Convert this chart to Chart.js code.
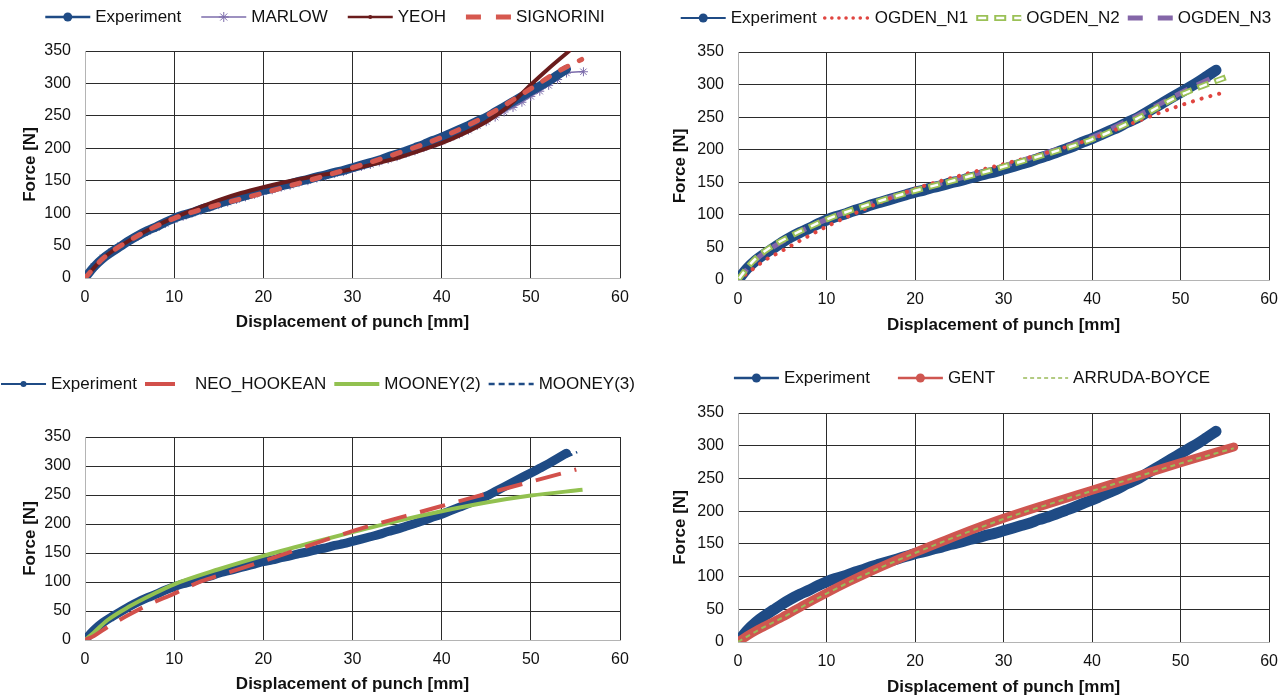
<!DOCTYPE html>
<html>
<head>
<meta charset="utf-8">
<script src="https://cdn.jsdelivr.net/npm/chart.js@4.4.0/dist/chart.umd.min.js"></script>
<style>
body { margin: 0; background: #fff; width: 1288px; height: 699px; position: relative; overflow: hidden; }
canvas { position: absolute; }
</style>
</head>
<body>
<canvas id="c1" width="640" height="345" style="left:0;top:0"></canvas>
<canvas id="c2" width="644" height="345" style="left:644px;top:0"></canvas>
<canvas id="c3" width="640" height="339" style="left:0;top:360px"></canvas>
<canvas id="c4" width="644" height="339" style="left:644px;top:360px"></canvas>
<script>
// Experiment (same test curve in every panel)
const expX = [0,1,2,3,4,5,6,7,8,9,10,11,12,13,14,15,16,17,18,19,20,21,22,23,24,25,26,27,28,29,30,31,32,33,34,35,36,37,38,39,40,41,42,43,44,45,46,47,48,49,50,51,52,53,54];
const expY = [0,17,30,40,49,58,66,73,79,86,92,97,101,106,110,115,119,123,127,131,135,138,142,145,149,152,156,159,163,166,170,174,178,182,187,191,196,201,206,212,217,223,229,235,242,248,256,264,272,280,288,296,304,313,322];

// Panel 1
const marlowX = [0,1,2,3,4,5,6,7,8,9,10,11,12,13,14,15,16,17,18,19,20,21,22,23,24,25,26,27,28,29,30,31,32,33,34,35,36,37,38,39,40,41,42,43,44,45,46,47,48,49,50,51,52,53,54,55.9];
const marlowY = [0,18,31,41,50,58,65,72,78,84,90,95,100,104,109,113,117,121,125,129,133,136,140,143,147,150,154,157,161,164,168,172,175,179,183,187,192,196,201,206,211,217,222,228,235,241,248,256,263,271,280,288,297,306,316,318];
const yeohX = [0,2,5,7.5,10,12.5,15,17.5,20,22.5,25,27.5,30,32.5,35,37.5,40,42.5,45,47.5,50,52,54.3];
const yeohY = [0,30,58,77,93,107,120,131,140,148,155,161,168,176,185,196,208,223,241,265,298,323,350];
const signoriniX = [0,2,5,10,15,20,25,30,35,40,45,50,53,55.7];
const signoriniY = [0,30,58,92,113,131,150,170,192,217,250,292,318,337];

// Panel 2
const ogden1X = [0,1,2,3,5,7.5,10,15,20,25,30,35,40,45,47.5,50,52.5,55.2];
const ogden1Y = [0,10,20,30,45,64,82,113,140,160,178,196,217,243,256,268,279,289];
const ogden2X = [0,1,2,4,6,8,10,15,20,25,30,35,40,45,50,52.5,55.3];
const ogden2Y = [0,18,33,53,68,81,93,117,137,155,174,194,216,247,284,298,312];
const ogden3X = [0,2,5,10,15,20,25,30,35,40,45,50,53.5];
const ogden3Y = [0,31,59,93,117,138,156,175,196,219,251,287,310];

// Panel 3
const neoX = [0,1,2.5,4.5,7,10,13,16,20,24,28,32,36,40,45,50,55.1];
const neoY = [0,7,22,40,60,80,101,116,136,157,178,197,214,231,252,273,294];
const mooney2X = [0,1,2.5,5,7.5,10,15,20,25,30,35,40,45,50,55.8];
const mooney2Y = [0,13,34,58,78,96,122,145,166,186,205,222,237,249,259];
const mooney3X = [0,2,5,10,15,20,25,30,35,40,45,50,55.2];
const mooney3Y = [0,30,57,91,114,134,152,171,192,217,249,288,324];

// Panel 4
const gentX = [0,1,2,3,5,7.5,10,12.5,15,17.5,20,25,30,35,40,45,50,53,56];
const gentY = [0,9,17,24,38,57,75,92,108,123,137,164,189,211,232,253,274,286,298];
const arrudaX = [0,2,5,10,15,20,25,30,35,40,45,50,56];
const arrudaY = [0,16,37,74,107,136,163,188,210,231,252,273,296];

const xTicks = { min: 0, max: 60, step: 10 };
const yTicks = { min: 0, max: 350, step: 50 };

const FONT = '"Liberation Sans", Arial, sans-serif';
const BLUE = '#1f4b85';

function pts(xs, ys) {
    return xs.map((x, i) => ({ x: x, y: ys[i] }));
}

// Excel-like legend: line sample with marker, then label
const lineLegend = {
    id: 'lineLegend',
    afterDraw(chart, args, opts) {
        const ctx = chart.ctx;
        const items = chart.data.datasets.filter(d => d.leg);
        const sw = opts.sample, gap = 5;
        ctx.save();
        ctx.font = '17px ' + FONT;
        ctx.textBaseline = 'middle';
        const widths = items.map(d => sw + gap + ctx.measureText(d.label).width);
        const total = widths.reduce((a, b) => a + b, 0) + opts.spacing * (items.length - 1);
        let x = opts.cx - total / 2;
        const y = opts.y;
        items.forEach((d, i) => {
            const L = d.leg;
            ctx.strokeStyle = d.borderColor;
            ctx.lineWidth = L.w;
            ctx.lineCap = L.cap || 'butt';
            ctx.setLineDash(L.dash || []);
            ctx.lineDashOffset = 0;
            ctx.beginPath();
            ctx.moveTo(x, y);
            ctx.lineTo(x + sw, y);
            ctx.stroke();
            if (L.inner) {
                ctx.strokeStyle = '#fff';
                ctx.lineWidth = L.inner.w;
                ctx.setLineDash(L.inner.dash);
                ctx.lineDashOffset = L.inner.offset;
                ctx.beginPath();
                ctx.moveTo(x, y);
                ctx.lineTo(x + sw, y);
                ctx.stroke();
            }
            ctx.setLineDash([]);
            ctx.lineCap = 'butt';
            const cx = x + sw / 2;
            if (L.point === 'circle') {
                ctx.fillStyle = d.borderColor;
                ctx.beginPath();
                ctx.arc(cx, y, L.r, 0, Math.PI * 2);
                ctx.fill();
            } else if (L.point === 'star') {
                ctx.strokeStyle = d.borderColor;
                ctx.lineWidth = 1;
                ctx.beginPath();
                for (let k = 0; k < 4; k++) {
                    const a = k * Math.PI / 4;
                    ctx.moveTo(cx - Math.cos(a) * L.r, y - Math.sin(a) * L.r);
                    ctx.lineTo(cx + Math.cos(a) * L.r, y + Math.sin(a) * L.r);
                }
                ctx.stroke();
            }
            ctx.fillStyle = '#111';
            ctx.fillText(d.label, x + sw + gap, y);
            x += widths[i] + opts.spacing;
        });
        ctx.restore();
    }
};

function gridColor(c) {
    return c.tick && c.tick.value === 0 ? 'rgba(0,0,0,0)' : '#2b2b2b';
}

function makeChart(id, datasets, p) {
    new Chart(document.getElementById(id), {
        type: 'line',
        data: { datasets: datasets },
        plugins: [lineLegend],
        options: {
            responsive: false,
            animation: false,
            events: [],
            layout: { padding: { top: p.top, right: p.right, left: 0, bottom: 0 } },
            elements: { line: { cubicInterpolationMode: 'monotone' }, point: { radius: 0 } },
            scales: {
                x: {
                    type: 'linear',
                    min: xTicks.min, max: xTicks.max,
                    ticks: { stepSize: xTicks.step, padding: 10, color: '#111', font: { family: FONT, size: 16 } },
                    grid: { color: gridColor, drawTicks: false, lineWidth: 1 },
                    border: { color: '#b4b4b4' },
                    title: { display: true, text: 'Displacement of punch [mm]', color: '#111',
                        font: { family: FONT, size: 17, weight: 'bold' }, padding: { top: 0, bottom: p.xtb } },
                    afterFit: s => { s.height = p.xh; }
                },
                y: {
                    min: yTicks.min, max: yTicks.max,
                    ticks: { stepSize: yTicks.step, padding: 14, color: '#111', font: { family: FONT, size: 16 } },
                    grid: { color: gridColor, drawTicks: false, lineWidth: 1 },
                    border: { color: '#b4b4b4' },
                    title: { display: true, text: 'Force [N]', color: '#111',
                        font: { family: FONT, size: 17, weight: 'bold' }, padding: { top: p.ytp, bottom: 0 } },
                    afterFit: s => { s.width = p.yw; }
                }
            },
            plugins: {
                legend: { display: false },
                tooltip: { enabled: false },
                lineLegend: { cx: p.lcx, y: p.ly, sample: 45, spacing: p.spacing }
            }
        }
    });
}

// Top left
makeChart('c1', [
    { label: 'Experiment', data: pts(expX, expY), borderColor: BLUE, borderWidth: 9,
      borderCapStyle: 'round', borderJoinStyle: 'round', order: 3,
      leg: { w: 2.5, point: 'circle', r: 4.5 } },
    { label: 'MARLOW', data: pts(marlowX, marlowY), borderColor: '#7c6cab', borderWidth: 1.5,
      pointRadius: 4.5, pointStyle: 'star', pointBorderColor: '#7c6cab', pointBorderWidth: 1, order: 4,
      leg: { w: 1.5, point: 'star', r: 5 } },
    { label: 'YEOH', data: pts(yeohX, yeohY), borderColor: '#6a1c1c', borderWidth: 4,
      borderCapStyle: 'round', order: 2,
      leg: { w: 2.5, point: 'circle', r: 2 } },
    { label: 'SIGNORINI', data: pts(signoriniX, signoriniY), borderColor: '#d6584f', borderWidth: 5,
      borderDash: [8, 13], borderCapStyle: 'round', order: 1,
      leg: { w: 5, dash: [15, 15] } }
], { top: 51, right: 20, yw: 85, xh: 67, xtb: 12, ytp: 20, lcx: 325, ly: 17, spacing: 20 });

// Top right
makeChart('c2', [
    { label: 'Experiment', data: pts(expX, expY), borderColor: BLUE, borderWidth: 11,
      borderCapStyle: 'round', borderJoinStyle: 'round', order: 5,
      leg: { w: 2, point: 'circle', r: 4.5 } },
    { label: 'OGDEN_N1', data: pts(ogden1X, ogden1Y), borderColor: '#e04540', borderWidth: 4,
      borderDash: [0.1, 9], borderCapStyle: 'round', order: 2,
      leg: { w: 3.5, dash: [0.1, 7], cap: 'round' } },
    { label: 'OGDEN_N2', data: pts(ogden2X, ogden2Y), borderColor: '#9bc157', borderWidth: 6,
      borderDash: [12, 6], order: 1,
      leg: { w: 6, dash: [12, 6], inner: { w: 2.5, dash: [8, 10], offset: -2 } } },
    { label: 'ogden2-inner', data: pts(ogden2X, ogden2Y), borderColor: '#ffffff', borderWidth: 2.5,
      borderDash: [8, 10], borderDashOffset: -2, order: 0 },
    { label: 'OGDEN_N3', data: pts(ogden3X, ogden3Y), borderColor: '#8466a8', borderWidth: 5,
      borderDash: [14, 10], order: 3,
      leg: { w: 5, dash: [15, 15] } }
], { top: 52, right: 18, yw: 94, xh: 65, xtb: 9, ytp: 26, lcx: 332, ly: 18, spacing: 8 });

// Bottom left
makeChart('c3', [
    { label: 'Experiment', data: pts(expX, expY), borderColor: BLUE, borderWidth: 9,
      borderCapStyle: 'round', borderJoinStyle: 'round', order: 4,
      leg: { w: 2, point: 'circle', r: 3 } },
    { label: 'NEO_HOOKEAN', data: pts(neoX, neoY), borderColor: '#d2504b', borderWidth: 4,
      borderDash: [26, 14], order: 1,
      leg: { w: 4, dash: [30, 20] } },
    { label: 'MOONEY(2)', data: pts(mooney2X, mooney2Y), borderColor: '#92c150', borderWidth: 4,
      order: 2,
      leg: { w: 4 } },
    { label: 'MOONEY(3)', data: pts(mooney3X, mooney3Y), borderColor: BLUE, borderWidth: 2.5,
      borderDash: [6, 4], order: 3,
      leg: { w: 2.5, dash: [6, 4] } }
], { top: 77, right: 20, yw: 85, xh: 59, xtb: 4, ytp: 20, lcx: 318, ly: 24, spacing: 8 });

// Bottom right
makeChart('c4', [
    { label: 'Experiment', data: pts(expX, expY), borderColor: BLUE, borderWidth: 11,
      borderCapStyle: 'round', borderJoinStyle: 'round', order: 3,
      leg: { w: 2.5, point: 'circle', r: 4.5 } },
    { label: 'GENT', data: pts(gentX, gentY), borderColor: '#cf5650', borderWidth: 9,
      borderCapStyle: 'round', borderJoinStyle: 'round', order: 2,
      leg: { w: 2.5, point: 'circle', r: 4.5 } },
    { label: 'ARRUDA-BOYCE', data: pts(arrudaX, arrudaY), borderColor: '#9bbb59', borderWidth: 2,
      borderDash: [5, 4], order: 1,
      leg: { w: 1.5, dash: [4, 3] } }
], { top: 53, right: 18, yw: 94, xh: 57, xtb: 1, ytp: 26, lcx: 328, ly: 18, spacing: 28 });
</script>
</body>
</html>
